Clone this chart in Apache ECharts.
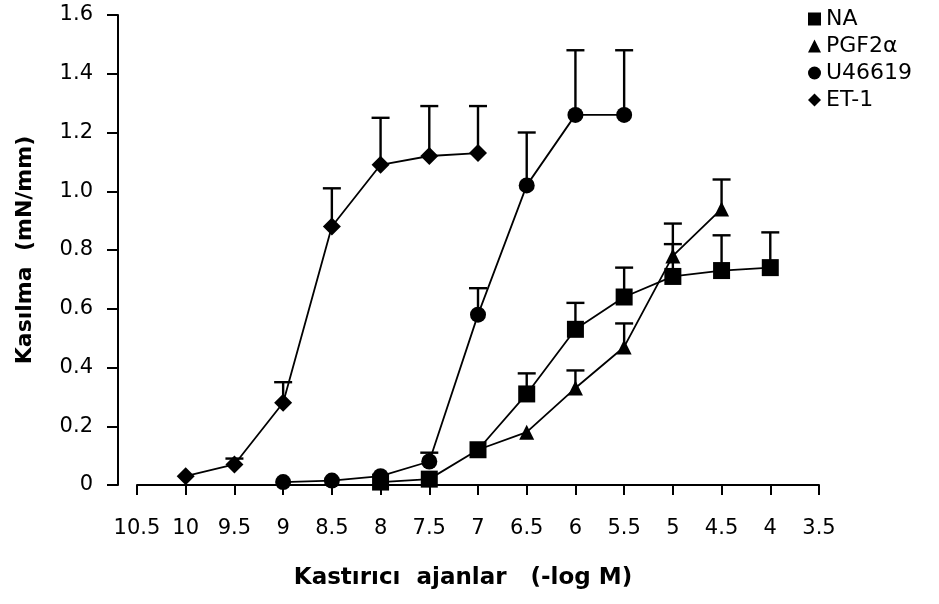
<!DOCTYPE html>
<html>
<head>
<meta charset="utf-8">
<script src="https://cdn.jsdelivr.net/npm/echarts@6/dist/echarts.min.js"></script>
<style>html,body{margin:0;padding:0;background:#fff}#c{width:939px;height:604px}</style>
</head>
<body>
<div id="c"></div>
<script>
// x positions (-log M)
var xNA   = [8, 7.5, 7, 6.5, 6, 5.5, 5, 4.5, 4];
var yNA   = [0.01, 0.02, 0.12, 0.31, 0.53, 0.64, 0.71, 0.73, 0.74];
var eNA   = [null, null, null, 0.38, 0.62, 0.74, 0.82, 0.85, 0.86];

var xPGF  = [7, 6.5, 6, 5.5, 5, 4.5];
var yPGF  = [0.12, 0.18, 0.33, 0.47, 0.78, 0.94];
var ePGF  = [null, null, 0.39, 0.55, 0.89, 1.04];

var xU    = [9, 8.5, 8, 7.5, 7, 6.5, 6, 5.5];
var yU    = [0.01, 0.015, 0.03, 0.08, 0.58, 1.02, 1.26, 1.26];
var eU    = [null, null, null, 0.11, 0.67, 1.20, 1.48, 1.48];

var xET   = [10, 9.5, 9, 8.5, 8, 7.5, 7];
var yET   = [0.03, 0.07, 0.28, 0.88, 1.09, 1.12, 1.13];
var eET   = [null, 0.09, 0.35, 1.01, 1.25, 1.29, 1.29];

var seriesNames = ['NA', 'PGF2α', 'U46619', 'ET-1'];
var yTickLabels = ['0', '0.2', '0.4', '0.6', '0.8', '1.0', '1.2', '1.4', '1.6'];

function pts(xs, ys) { return xs.map(function (x, i) { return [x, ys[i]]; }); }
function errs(xs, ys, es) {
  var out = [];
  xs.forEach(function (x, i) { if (es[i] != null) out.push([x, ys[i], es[i]]); });
  return out;
}

var FONT = '"DejaVu Sans", Verdana, sans-serif';

function errSeries(data) {
  return {
    type: 'custom',
    z: 1,
    silent: true,
    data: data,
    encode: { x: 0, y: [1, 2] },
    renderItem: function (params, api) {
      var p0 = api.coord([api.value(0), api.value(1)]);
      var p1 = api.coord([api.value(0), api.value(2)]);
      var hw = 9;
      var st = { stroke: '#000', lineWidth: 2.4 };
      return {
        type: 'group',
        children: [
          { type: 'line', shape: { x1: p0[0], y1: p0[1], x2: p1[0], y2: p1[1] }, style: st },
          { type: 'line', shape: { x1: p1[0] - hw, y1: p1[1], x2: p1[0] + hw, y2: p1[1] }, style: st }
        ]
      };
    }
  };
}

function lineSeries(name, data, symbol, size) {
  return {
    name: name,
    type: 'line',
    z: 3,
    data: data,
    symbol: symbol,
    symbolSize: size,
    showAllSymbol: true,
    lineStyle: { color: '#000', width: 1.8 },
    itemStyle: { color: '#000', borderColor: '#000', borderWidth: 0 },
    emphasis: { disabled: true },
    animation: false
  };
}

var chart = echarts.init(document.getElementById('c'), null, { renderer: 'canvas' });
chart.setOption({
  animation: false,
  backgroundColor: '#fff',
  grid: { left: 137, right: 120, top: 15, bottom: 119, containLabel: false },
  legend: {
    orient: 'vertical',
    left: 803,
    top: 3,
    itemWidth: 13,
    itemHeight: 13,
    itemGap: 5,
    textStyle: { fontFamily: FONT, fontSize: 22, color: '#000', padding: [0, 0, 0, 0] },
    data: [
      { name: seriesNames[0], icon: 'rect' },
      { name: seriesNames[1], icon: 'triangle' },
      { name: seriesNames[2], icon: 'circle' },
      { name: seriesNames[3], icon: 'diamond' }
    ]
  },
  xAxis: {
    type: 'value',
    inverse: true,
    min: 3.5,
    max: 10.5,
    interval: 0.5,
    offset: 13,
    splitLine: { show: false },
    axisLine: { lineStyle: { color: '#000', width: 2 } },
    axisTick: { show: true, length: 10, lineStyle: { color: '#000', width: 2 } },
    axisLabel: { margin: 20, fontFamily: FONT, fontSize: 21, color: '#000' },
    name: 'Kastırıcı  ajanlar   (-log M)',
    nameLocation: 'middle',
    nameGap: 69,
    nameTextStyle: { fontFamily: FONT, fontSize: 23, fontWeight: 'bold', color: '#000', padding: [0, 30, 0, 0] }
  },
  yAxis: {
    type: 'value',
    min: 0,
    max: 1.6,
    interval: 0.2,
    offset: 19,
    splitLine: { show: false },
    axisLine: { show: true, lineStyle: { color: '#000', width: 2 } },
    axisTick: { show: true, length: 11, lineStyle: { color: '#000', width: 2 } },
    axisLabel: {
      margin: 25, fontFamily: FONT, fontSize: 21, color: '#000',
      formatter: function (v) { return yTickLabels[Math.round(v / 0.2)]; }
    },
    name: 'Kasılma  (mN/mm)',
    nameLocation: 'middle',
    nameGap: 82,
    nameRotate: 90,
    nameTextStyle: { fontFamily: FONT, fontSize: 22, fontWeight: 'bold', color: '#000' }
  },
  series: [
    errSeries(errs(xNA, yNA, eNA)),
    errSeries(errs(xPGF, yPGF, ePGF)),
    errSeries(errs(xU, yU, eU)),
    errSeries(errs(xET, yET, eET)),
    lineSeries(seriesNames[3], pts(xET, yET), 'diamond', 18),
    lineSeries(seriesNames[2], pts(xU, yU), 'circle', 16),
    lineSeries(seriesNames[1], pts(xPGF, yPGF), 'triangle', 15),
    lineSeries(seriesNames[0], pts(xNA, yNA), 'rect', 17)
  ]
});
</script>
</body>
</html>
